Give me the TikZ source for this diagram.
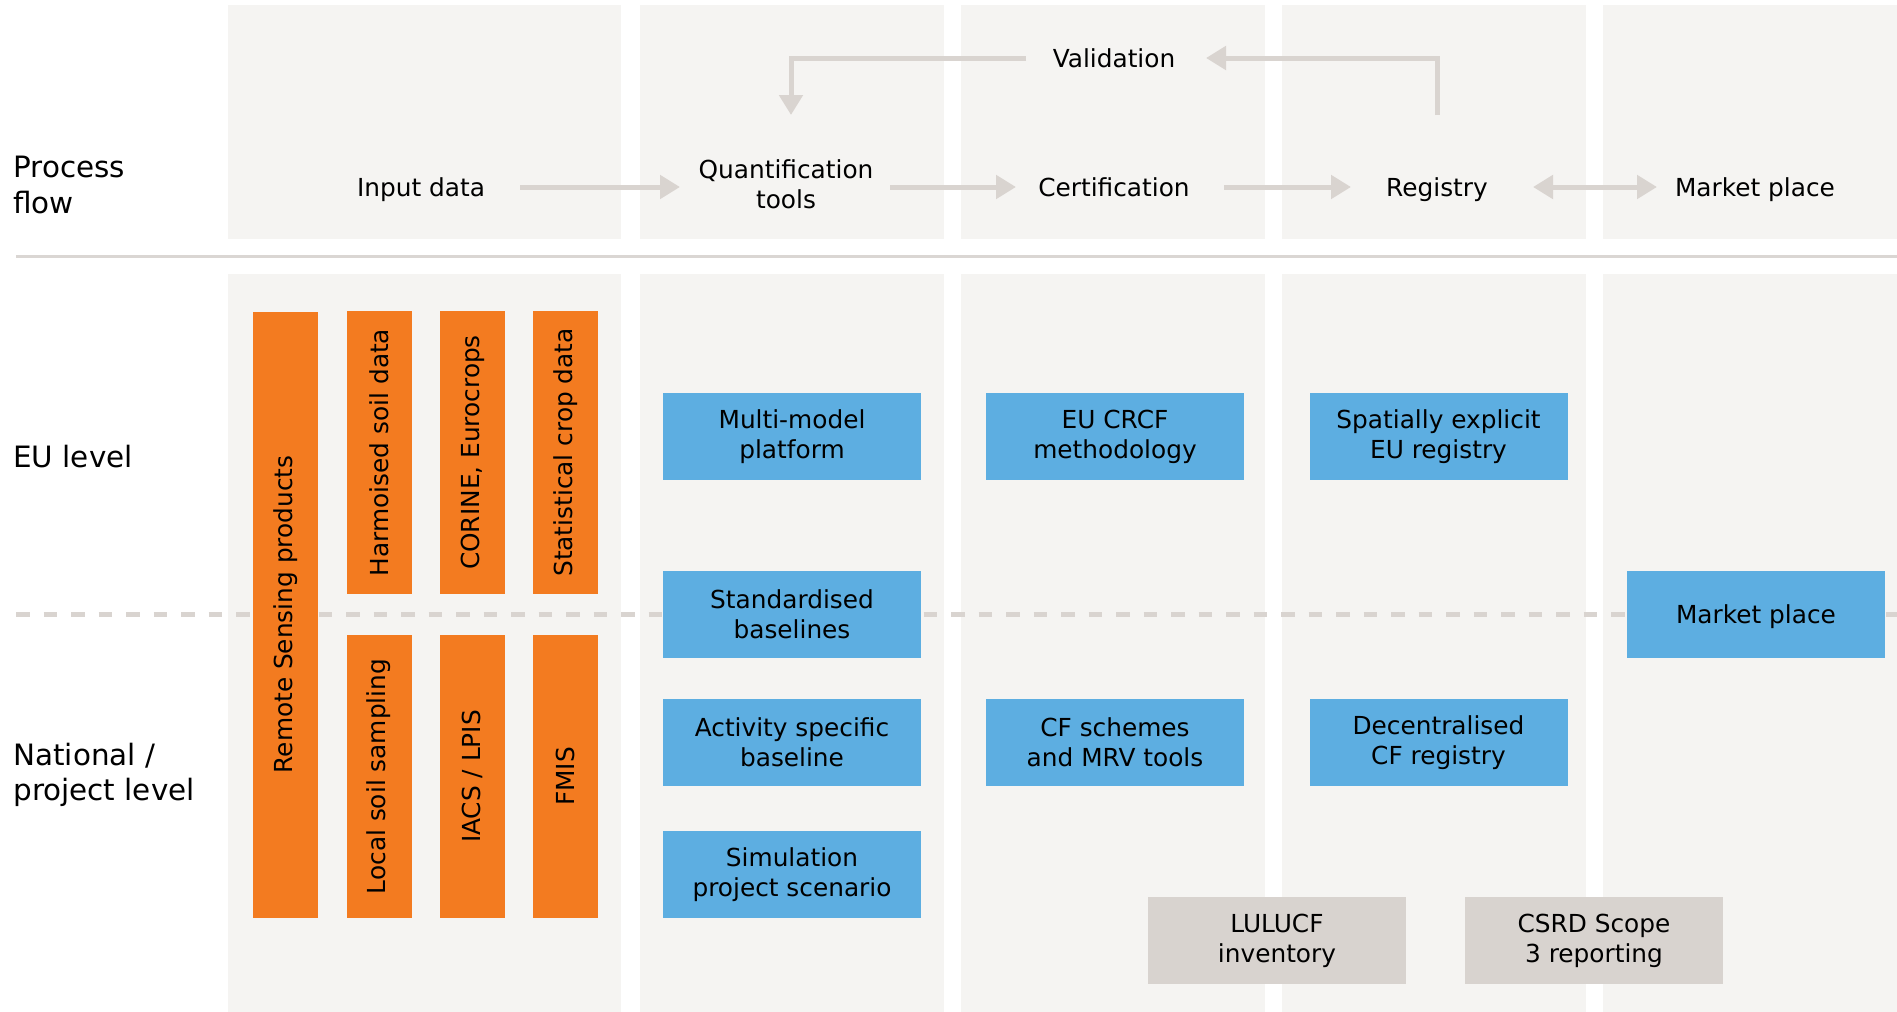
\documentclass[tikz,border=0pt]{standalone}
\usepackage{fontspec}
\setmainfont{DejaVu Sans}
\usetikzlibrary{arrows.meta}

\definecolor{panelbg}{HTML}{F5F4F2}
\definecolor{orangefill}{HTML}{F37B20}
\definecolor{bluefill}{HTML}{5DAEE1}
\definecolor{greyfill}{HTML}{D8D3CF}
\definecolor{arrowgrey}{HTML}{D9D4D0}
\definecolor{rulegrey}{HTML}{DAD6D3}

\tikzset{
  panel/.style={fill=panelbg, draw=none},
  cell/.style={draw=none, inner sep=0pt, align=center,
    font=\fontsize{12.4}{14.9}\selectfont},
  oneline/.style={text height=9pt, text depth=0pt},
  % rotated boxes: width runs along the text, i.e. upwards
  orangebox/.style={cell, fill=orangefill, minimum height=32.5pt, rotate=90},
  bluebox/.style={cell, fill=bluefill, minimum width=129pt, minimum height=43.5pt},
  greybox/.style={cell, fill=greyfill, minimum width=129pt, minimum height=43.5pt},
  toplabel/.style={cell},
  sidelabel/.style={draw=none, inner sep=0pt, anchor=west, align=left,
    font=\fontsize{14.7}{17.6}\selectfont},
  flow/.style={draw=arrowgrey, line width=2.5pt, -{Triangle[length=10pt, width=11.5pt]}},
  flowboth/.style={draw=arrowgrey, line width=2.5pt,
    {Triangle[length=10pt, width=11.5pt]}-{Triangle[length=10pt, width=11.5pt]}},
  levelline/.style={draw=arrowgrey, line width=2.5pt, dash pattern=on 6.75pt off 7pt},
  rowrule/.style={draw=rulegrey, line width=1.5pt},
}

\begin{document}
\begin{tikzpicture}[x=0.5pt, y=-0.5pt]
\useasboundingbox (0,0) rectangle (1897,1012);

% column panels, process-flow row and level rows
\foreach \l/\r in {228/621, 640/944, 961/1265, 1282/1586, 1603/1897} {
  \fill[panel] (\l,5) rectangle (\r,239);
  \fill[panel] (\l,274) rectangle (\r,1012);
}

% separator under the process flow and EU / national divide
\draw[rowrule] (16,256) -- (1897,256);
\draw[levelline] (16,614) -- (1897,614);

% row labels
\node[sidelabel] (lproc) at (13,185) {Process\\flow};
\node[sidelabel] (leu)   at (13,457) {EU level};
\node[sidelabel] (lnat)  at (13,775) {National /\\project level};

% process flow
\node[toplabel, oneline] (input)  at (421,187)  {Input data};
\node[toplabel]          (quant)  at (786,184)  {Quantification\\tools};
\node[toplabel, oneline] (cert)   at (1114,187) {Certification};
\node[toplabel, oneline] (reg)    at (1437,187) {Registry};
\node[toplabel, oneline] (market) at (1755,187) {Market place};
\node[toplabel, oneline] (val)    at (1114,59)  {Validation};

\draw[flow] ([xshift=49.5pt]input.center) -- ([xshift=-53pt]quant.center |- input.center);
\draw[flow] ([xshift=52pt]quant.center |- cert.center) -- ([xshift=-49pt]cert.center);
\draw[flow] ([xshift=55pt]cert.center) -- ([xshift=-43pt]reg.center);
\draw[flowboth] ([xshift=48pt]reg.center) -- ([xshift=-49pt]market.center);

\coordinate (qdrop) at ([xshift=2.5pt, yshift=34.5pt]quant.center);
\coordinate (rrise) at ([yshift=36pt]reg.center);
\draw[flow] ([xshift=-44pt, yshift=0.5pt]val.center) -| (qdrop);
\draw[flow] (rrise) |- ([xshift=46pt, yshift=0.5pt]val.center);

% input data sources
\node[orangebox, minimum width=303pt]   (rs)    at (285.5,614.5) {Remote Sensing products};
\node[orangebox, minimum width=141.5pt] (harm)  at (379,452.5)   {Harmoised soil data};
\node[orangebox, minimum width=141.5pt] (cor)   at (472.5,452.5) {CORINE, Eurocrops};
\node[orangebox, minimum width=141.5pt] (stat)  at (565.5,452.5) {Statistical crop data};
\node[orangebox, minimum width=141.5pt] (local) at (379,776.5)   {Local soil sampling};
\node[orangebox, minimum width=141.5pt] (iacs)  at (472.5,776.5) {IACS / LPIS};
\node[orangebox, minimum width=141.5pt] (fmis)  at (565.5,776.5) {FMIS};

% quantification tools
\node[bluebox] (mm)   at (792,436.5) {Multi-model\\platform};
\node[bluebox] (std)  at (792,614.5) {Standardised\\baselines};
\node[bluebox] (act)  at (792,742.5) {Activity specific\\baseline};
\node[bluebox] (sim)  at (792,874.5) {Simulation\\project scenario};

% certification
\node[bluebox] (crcf) at (1115,436.5) {EU CRCF\\methodology};
\node[bluebox] (cfs)  at (1115,742.5) {CF schemes\\and MRV tools};

% registries
\node[bluebox] (spat) at (1438.5,436.5) {Spatially explicit\\EU registry};
\node[bluebox] (dec)  at (1438.5,742.5) {Decentralised\\CF registry};

% market place
\node[bluebox, oneline] (mkt)  at (1756,614.5) {Market place};

% reporting
\node[greybox] (lulucf) at (1277,940.5) {LULUCF\\inventory};
\node[greybox] (csrd)   at (1594,940.5) {CSRD Scope\\3 reporting};
\end{tikzpicture}
\end{document}
